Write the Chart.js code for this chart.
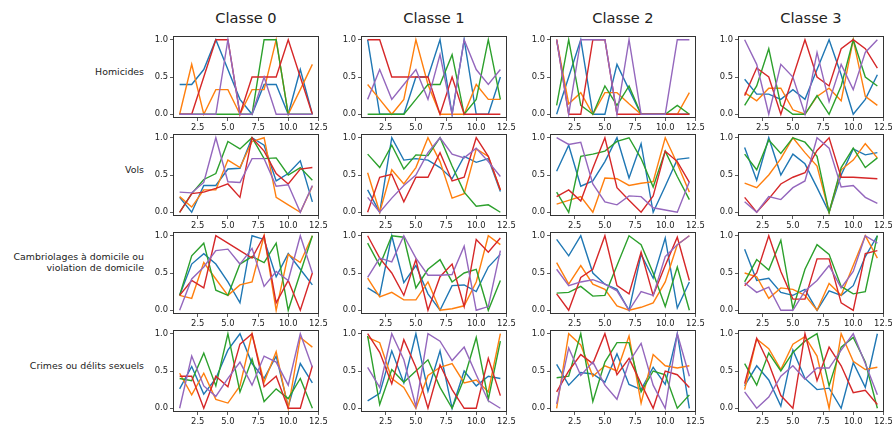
<html>
<head>
<meta charset="utf-8">
<script src="https://cdn.jsdelivr.net/npm/chart.js@4.4.1/dist/chart.umd.min.js"></script>
<style>
  body { margin: 0; background: #fff; }
  #fig { position: relative; width: 892px; height: 428px; overflow: hidden; font-family: "DejaVu Sans", sans-serif; color: #222; }
  .title { position: absolute; text-align: center; font-size: 14.6px; line-height: 17px; }
  .rowlab { position: absolute; text-align: right; font-size: 9.4px; line-height: 11px; white-space: nowrap; }
  canvas { position: absolute; }
</style>
</head>
<body>
<div id="fig"></div>
<script>
// labels
const classes = ['Classe 0', 'Classe 1', 'Classe 2', 'Classe 3'];
const categories = ['Homicides', 'Vols', 'Cambriolages à domicile ou\nviolation de domicile', 'Crimes ou délits sexuels'];
const xValues = [1, 2, 3, 4, 5, 6, 7, 8, 9, 10, 11, 12];
const xTicks = [2.5, 5, 7.5, 10, 12.5];
const yTicks = [0, 0.5, 1];

// each panel: 5 series (blue, orange, green, red, purple), 12 values each
const homicides0 = [
  [0.4, 0.4, 0.6, 1.0, 0.6, 0.2, 0, 0.4, 0.4, 0, 0.6, 0],
  [0, 0.67, 0, 0.33, 0.33, 0, 0.33, 0.33, 1.0, 0, 0.33, 0.67],
  [0, 0, 0, 0, 0, 0, 0, 1.0, 1.0, 0, 0, 0],
  [0, 0, 0.5, 1.0, 1.0, 0, 0.5, 0.5, 0.5, 1.0, 0.5, 0],
  [0, 0, 0, 0, 1.0, 0, 0, 0.5, 0, 0, 0, 0]
];
const homicides1 = [
  [1.0, 0, 0, 0, 0.5, 0.5, 1.0, 0, 1.0, 0, 0, 0.5],
  [0.4, 0.2, 0, 0.2, 1.0, 0.4, 0, 0, 0, 0.4, 0.2, 0.2],
  [0, 0, 0, 0, 0.2, 0.4, 0.4, 0.8, 0, 0.2, 1.0, 0.2],
  [1.0, 1.0, 0.5, 0.5, 0.5, 0.5, 0, 0.5, 0, 0, 0, 0],
  [0.2, 0.6, 0.2, 0.4, 0.6, 0.2, 0.8, 0, 1.0, 0.6, 0.4, 0.6]
];
const homicides2 = [
  [0, 0.5, 1.0, 0, 0, 0.67, 0.33, 0, 0, 0, 0, 0],
  [1.0, 0.14, 0.29, 0, 0.29, 0.29, 0.14, 0, 0, 0, 0, 0.29],
  [0.12, 1.0, 0.12, 0, 0.38, 0.12, 0.38, 0, 0, 0, 0.12, 0],
  [1.0, 0, 0, 1.0, 1.0, 0, 0, 0, 0, 0, 0, 0],
  [1.0, 0, 1.0, 1.0, 1.0, 0, 1.0, 0, 0, 0, 1.0, 1.0]
];
const homicides3 = [
  [0.47, 0.27, 0.27, 0.2, 0.33, 0.2, 0.6, 1.0, 0.53, 0, 0.2, 0.53],
  [0.29, 0.18, 0.35, 0.35, 0.06, 0, 0.24, 0.35, 0.18, 1.0, 0.24, 0.12],
  [0.12, 0.38, 0.88, 0.12, 0, 0, 0.25, 0, 0.38, 1.0, 0.5, 0.38],
  [0.25, 0.62, 0.5, 0, 0.5, 1.0, 0.5, 0.38, 0.88, 1.0, 0.88, 0.62],
  [1.0, 0.67, 0, 0.67, 0.5, 0, 0.83, 0.17, 0.67, 0.33, 0.83, 1.0]
];

const vols0 = [
  [0.2, 0, 0.36, 0.36, 0.58, 0.59, 1.0, 0.9, 0.42, 0.52, 0.69, 0.14],
  [0.21, 0.07, 0.3, 0.3, 0.7, 0.6, 0.95, 1.0, 0.2, 0.1, 0, 0.35],
  [0, 0.25, 0.44, 0.52, 0.95, 0.85, 1.0, 0.72, 0.73, 0.5, 0.6, 0.43],
  [0, 0.25, 0.27, 0.32, 0.38, 0.2, 1.0, 0.82, 0.52, 0.38, 0.58, 0.6],
  [0.27, 0.26, 0.4, 1.0, 0.41, 0.4, 0.72, 0.72, 0.35, 0.37, 0, 0.36]
];
const vols1 = [
  [0.3, 0, 1.0, 0.7, 0.72, 0.7, 0.6, 0.45, 0.75, 0.67, 0.72, 0.28],
  [0.53, 0, 0.57, 0.38, 0.6, 1.0, 0.68, 0.19, 0.25, 0.85, 0.75, 0.3],
  [0.78, 0.6, 0.9, 0.58, 0.77, 0.76, 1.0, 0.62, 0.27, 0.08, 0.1, 0],
  [0, 0.47, 0.51, 0.14, 0.47, 0.47, 0.8, 0.42, 0.47, 1.0, 0.75, 0.3],
  [0.2, 0, 0.19, 0.36, 0.5, 0.8, 1.0, 0.78, 0.73, 0.86, 0.68, 0.48]
];
const vols2 = [
  [0.55, 0.9, 0.35, 0.42, 0.68, 1.0, 0.46, 0.92, 0, 0.35, 0.71, 0.73],
  [0.11, 0.16, 0.21, 0, 0.46, 0.45, 0.36, 0.39, 0.41, 1.0, 0.65, 0.27],
  [0.27, 0, 0.75, 0.78, 0.82, 0.95, 1.0, 0.72, 0.34, 0.82, 0.48, 0.17],
  [0.21, 0.3, 0.15, 0.59, 1.0, 0.33, 0.16, 0, 0.22, 0.82, 0.68, 0.4],
  [1.0, 0.91, 0.94, 0.38, 0.14, 0.1, 0.22, 0.21, 0.06, 0.03, 0, 0.41]
];
const vols3 = [
  [0.87, 0.43, 1.0, 0.5, 0.78, 0.65, 0.33, 0, 0.5, 0.85, 0.77, 0.8],
  [0.39, 0.33, 0.5, 0.72, 1.0, 0.8, 0.62, 0, 0.57, 0.7, 0.92, 0.73],
  [0.78, 0.57, 0.97, 0.79, 1.0, 0.94, 0.75, 0, 0.6, 0.86, 0.6, 0.73],
  [0.2, 0, 0.18, 0.38, 0.47, 0.53, 0.83, 1.0, 0.47, 0.47, 0.46, 0.45],
  [0.14, 0, 0.21, 0.17, 0.33, 0.42, 1.0, 0.86, 0.34, 0.36, 0.2, 0.12]
];

const cambriolages0 = [
  [0.2, 0.62, 0.76, 0.62, 0.38, 0.1, 1.0, 0.95, 0.45, 0.76, 0.55, 0.34],
  [0.2, 0.16, 0.64, 0.42, 0.2, 0.34, 0.38, 1.0, 0, 0.75, 0.64, 1.0],
  [0.2, 0.73, 0.9, 0.27, 0.2, 0.62, 0.72, 0.64, 0.9, 0, 0.5, 1.0],
  [0.2, 0.4, 0.3, 1.0, 0.9, 0.8, 0.7, 1.0, 0.1, 0.4, 0, 0.5],
  [0, 0.42, 0.58, 0.8, 0.82, 0.62, 0.83, 0.32, 0.52, 0.4, 1.0, 0.5]
];
const cambriolages1 = [
  [0.3, 0.2, 1.0, 0.37, 0.6, 0.22, 0, 0.33, 0.34, 0.25, 0.58, 0.75],
  [0.43, 0.18, 0.24, 0.14, 0.14, 0.38, 0, 0.02, 0.06, 0.38, 1.0, 0.88],
  [0.9, 0.6, 1.0, 0.98, 0.3, 0.55, 0.68, 0.38, 0.5, 0.55, 0, 0.4],
  [1.0, 0.7, 0.5, 0.2, 0.68, 0, 0.45, 0.62, 0.05, 0.95, 0.78, 0.97],
  [0.44, 0.7, 0.65, 1.0, 0.7, 0.47, 0.47, 0.48, 0.86, 0, 0.05, 0.8]
];
const cambriolages2 = [
  [0.95, 0.73, 1.0, 0.5, 0.35, 0.28, 0, 0.75, 0.43, 0.97, 0.03, 0.38],
  [0.64, 0.35, 0.6, 0.35, 0.28, 0.06, 0, 0.04, 0.1, 0.38, 0.88, 1.0],
  [0.23, 0.24, 0.32, 0.19, 0.2, 0.6, 1.0, 0.88, 0.5, 0.05, 0.58, 0],
  [0.22, 0, 0.44, 0.55, 1.0, 0.33, 0.22, 0.78, 0.2, 0.6, 0.98, 0.4],
  [0.55, 0.33, 0.38, 0.41, 0.35, 0.26, 0, 0.25, 0.2, 0.72, 0.88, 1.0]
];
const cambriolages3 = [
  [0.82, 0.4, 0.43, 0.24, 0.2, 0.28, 0, 0.26, 0.2, 0.33, 0.72, 1.0],
  [0.5, 0.45, 0.16, 0.3, 0.28, 0.2, 0, 0.36, 0.2, 0.6, 1.0, 0.7],
  [0.38, 0.68, 0.54, 0.94, 0.02, 0.55, 0.88, 0.75, 0.32, 0.22, 0.25, 1.0],
  [0.33, 0.5, 1.0, 0.52, 0.15, 0.15, 0.69, 0.69, 0.1, 0, 0.76, 0.8],
  [0.37, 0.24, 0.31, 0, 0, 0.26, 0.4, 0.6, 0.3, 0.52, 1.0, 0.9]
];

const crimes0 = [
  [0.26, 0.56, 0.19, 0.4, 0.78, 1.0, 0.6, 0.4, 0.7, 0.02, 0.6, 0.34],
  [0.47, 0.18, 0.47, 0.12, 0.07, 0.3, 1.0, 0.35, 0.76, 0, 0.95, 0.82],
  [0.4, 0.37, 0.74, 0.3, 1.0, 0.22, 0.66, 0.09, 0.26, 0.13, 0.4, 0],
  [0.43, 0.43, 0, 0.43, 0.29, 0.86, 1.0, 0.29, 0.43, 0, 0, 0.57],
  [0, 0.7, 0.3, 0.16, 0.4, 0.62, 0.31, 0.7, 0.62, 0.31, 1.0, 0.55]
];
const crimes1 = [
  [0.1, 0.2, 0.77, 0.34, 1.0, 0.23, 0.77, 0, 0.5, 0.3, 0.43, 0.4],
  [0.95, 0.88, 0.4, 0.28, 0, 0.44, 0.55, 0.6, 0.34, 0.38, 0.22, 1.0],
  [0.97, 0.05, 0.52, 0.35, 0.5, 0.65, 0.28, 0, 0.4, 0.95, 0.12, 0.9],
  [1.0, 0.75, 0.33, 0.92, 0.55, 0, 0.58, 0.25, 0, 0, 0.67, 0.17],
  [0.55, 0.28, 1.0, 0.65, 0.02, 1.0, 0.9, 0.64, 0.82, 0.45, 0.1, 0]
];
const crimes2 = [
  [0.59, 0.31, 0.48, 0.46, 0.35, 0.73, 0.32, 0.25, 0.55, 0.32, 1.0, 0],
  [0, 1.0, 0.85, 0.43, 0.57, 0.5, 0.97, 0.07, 0.72, 0.57, 0.54, 0.57],
  [0.41, 0.43, 1.0, 0.09, 0.62, 0.88, 0.88, 0.22, 0.5, 0.45, 0, 0.18],
  [0.22, 0.5, 0.72, 0.6, 1.0, 0.45, 0.67, 0.33, 0, 0.5, 0.45, 0.28],
  [0.06, 0.81, 0.44, 0.62, 0.31, 0.12, 0.62, 0.87, 0.31, 0, 1.0, 0.43]
];
const crimes3 = [
  [0.3, 0.57, 0.38, 0.03, 0.78, 0.4, 0.25, 0.27, 0, 0.61, 0.28, 1.0],
  [0.25, 0.93, 0.8, 0.52, 0.86, 0.96, 0.7, 0, 1.0, 0.63, 0.52, 0.55],
  [0.6, 0.31, 0.74, 0.5, 0.75, 0.9, 1.0, 0.3, 0.82, 0.95, 0.62, 0],
  [0.33, 0.94, 0.6, 0.17, 0, 1.0, 0.37, 0.82, 0.57, 0.21, 0.24, 0.05],
  [0.22, 0, 0.15, 0.43, 0.57, 0.39, 0.54, 0.54, 0.78, 1.0, 0.6, 0.18]
];

const grid = [
  [homicides0, homicides1, homicides2, homicides3],
  [vols0, vols1, vols2, vols3],
  [cambriolages0, cambriolages1, cambriolages2, cambriolages3],
  [crimes0, crimes1, crimes2, crimes3]
];

// layout (axes boxes in page pixels)
const colors = ['#1f77b4', '#ff7f0e', '#2ca02c', '#d62728', '#9467bd'];
const colLeft = [173, 361, 550, 738];
const rowTop = [36, 134, 232, 330];
const W = 146, H = 82;
const PAD_L = 34, PAD_T = 6, PAD_R = 14, PAD_B = 20;
const tickFont = { family: 'DejaVu Sans', size: 8.4 };

const fig = document.getElementById('fig');

classes.forEach((t, c) => {
  const d = document.createElement('div');
  d.className = 'title';
  d.textContent = t;
  d.style.left = colLeft[c] + 'px';
  d.style.width = W + 'px';
  d.style.top = '9px';
  fig.appendChild(d);
});

categories.forEach((t, r) => {
  const d = document.createElement('div');
  d.className = 'rowlab';
  d.innerHTML = t.split('\n').join('<br>');
  d.style.right = (892 - 144) + 'px';
  d.style.bottom = (428 - (rowTop[r] + H / 2)) + 'px';
  fig.appendChild(d);
});

const frame = {
  id: 'frame',
  afterDraw(chart) {
    const { ctx, chartArea: a } = chart;
    ctx.save();
    ctx.strokeStyle = '#333';
    ctx.lineWidth = 1;
    ctx.strokeRect(a.left + 0.5, a.top + 0.5, a.right - a.left - 1, a.bottom - a.top - 1);
    ctx.restore();
  }
};

function axis(min, max, ticks, fit) {
  return {
    type: 'linear',
    min: min,
    max: max,
    afterBuildTicks: s => { s.ticks = ticks.map(v => ({ value: v })); },
    afterFit: fit,
    grid: { drawOnChartArea: false, tickLength: 3, color: '#333', lineWidth: 0.8 },
    border: { display: false },
    ticks: { font: tickFont, color: '#222', padding: 2, maxRotation: 0, autoSkip: false, callback: v => v.toFixed(1) }
  };
}

grid.forEach((row, r) => {
  row.forEach((series, c) => {
    const cv = document.createElement('canvas');
    cv.width = W + PAD_L + PAD_R;
    cv.height = H + PAD_T + PAD_B;
    cv.style.left = (colLeft[c] - PAD_L) + 'px';
    cv.style.top = (rowTop[r] - PAD_T) + 'px';
    fig.appendChild(cv);

    new Chart(cv, {
      type: 'line',
      data: {
        datasets: series.map((vals, i) => ({
          data: vals.map((v, j) => ({ x: xValues[j], y: v })),
          borderColor: colors[i],
          borderWidth: 1.4,
          pointRadius: 0,
          tension: 0,
          fill: false,
          order: 4 - i
        }))
      },
      options: {
        responsive: false,
        animation: false,
        events: [],
        layout: { padding: { left: 0, top: PAD_T, right: PAD_R, bottom: 0 } },
        plugins: { legend: { display: false }, tooltip: { enabled: false } },
        scales: {
          x: axis(0.45, 12.55, xTicks, s => { s.height = PAD_B; s.paddingLeft = 0; s.paddingRight = 0; }),
          y: axis(-0.05, 1.05, yTicks, s => { s.width = PAD_L; s.paddingTop = 0; s.paddingBottom = 0; })
        }
      },
      plugins: [frame]
    });
  });
});
</script>
</body>
</html>
